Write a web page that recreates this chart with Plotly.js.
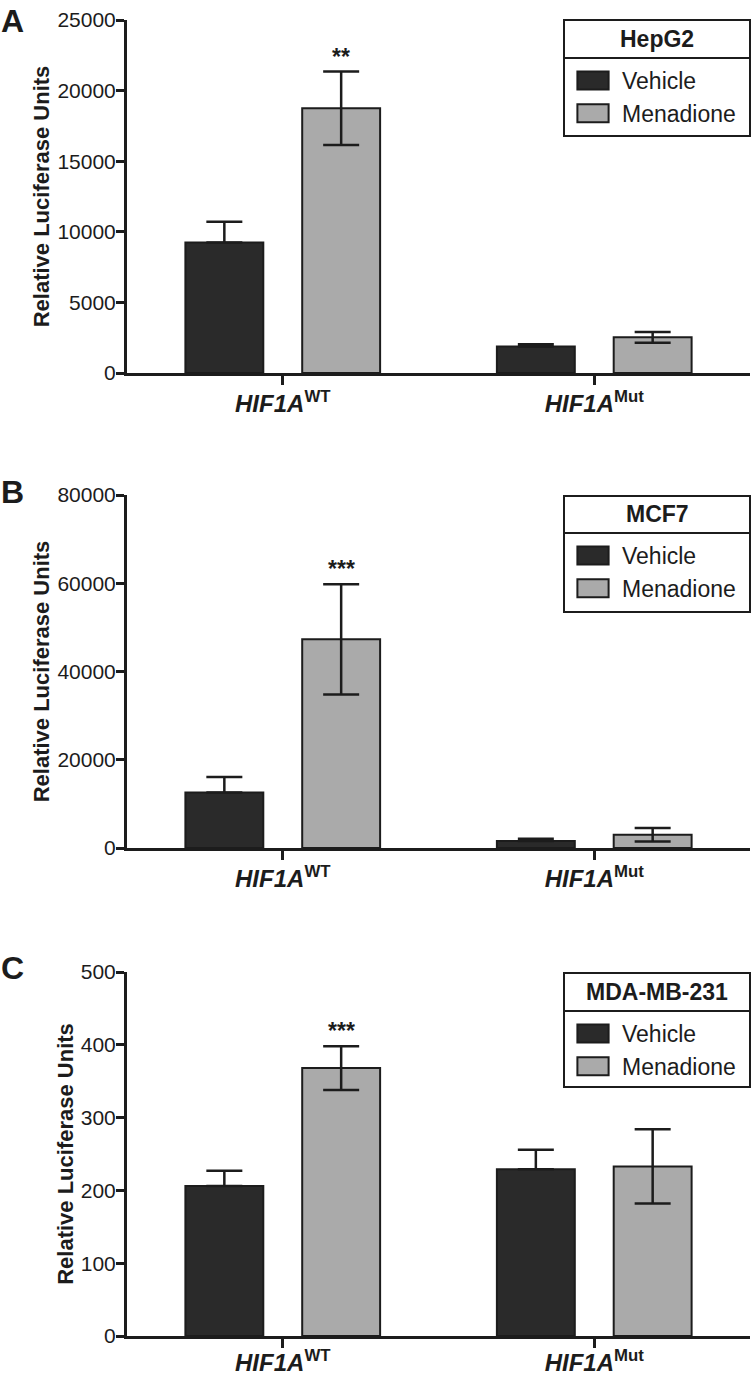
<!DOCTYPE html>
<html>
<head>
<meta charset="utf-8">
<script src="https://cdn.plot.ly/plotly-3.0.1.min.js"></script>
<style>html,body{margin:0;padding:0;background:#fff;}#chart{width:751px;height:1378px;}</style>
</head>
<body>
<div id="chart"></div>
<script>
// ---- data ----
const categories = ['WT', 'Mut'];
const tickLabels = ['<b><i>HIF1A</i><sup>WT</sup></b>', '<b><i>HIF1A</i><sup>Mut</sup></b>'];
const seriesNames = ['Vehicle', 'Menadione'];
const panelLetters = ['A', 'B', 'C'];
const cellLines = ['HepG2', 'MCF7', 'MDA-MB-231'];

const hepg2Vehicle = [9250, 1870];
const hepg2VehicleErr = [1460, 170];
const hepg2Menadione = [18750, 2530];
const hepg2MenadioneErr = [2600, 380];

const mcf7Vehicle = [12600, 1600];
const mcf7VehicleErr = [3500, 500];
const mcf7Menadione = [47300, 3000];
const mcf7MenadioneErr = [12500, 1550];

const mdaVehicle = [206, 229];
const mdaVehicleErr = [21, 27];
const mdaMenadione = [368, 233];
const mdaMenadioneErr = [30, 51];

const significance = ['**', '***', '***'];
const yMax = [25000, 80000, 500];
const yStep = [5000, 20000, 100];

// ---- styling ----
const FONT = 'Liberation Sans, Arial, Helvetica, sans-serif';
const INK = '#1c1c1c';
const vehColor = '#2a2a2a';
const menColor = '#aaaaaa';
const W = 751, H = 1378;
const M = {l: 127, r: 1, t: 0, b: 0};
const PW = W - M.l - M.r, PH = H - M.t - M.b;
const px2x = px => (px - M.l) / PW;
const px2y = py => 1 - (py - M.t) / PH;
const bargap = 0.25;
const bargroupgap = 0.333;

// pixel extents (top, bottom) of each panel's y axis
const yPix = [[20, 373], [495, 848], [972, 1336]];
// legend frame: [top, divider, bottom]
const legendBox = [[20, 58, 136], [496, 533, 612], [973, 1011, 1087]];
const legendLeft = 564, legendRight = 750;
const letterPix = [21, 492, 968];
const xLabelStandoff = [-2, -2, -6];

const panels = [
  {veh: hepg2Vehicle, vehErr: hepg2VehicleErr, men: hepg2Menadione, menErr: hepg2MenadioneErr},
  {veh: mcf7Vehicle, vehErr: mcf7VehicleErr, men: mcf7Menadione, menErr: mcf7MenadioneErr},
  {veh: mdaVehicle, vehErr: mdaVehicleErr, men: mdaMenadione, menErr: mdaMenadioneErr}
];

const data = [];
const layout = {
  width: W, height: H,
  margin: M,
  paper_bgcolor: '#fff', plot_bgcolor: '#fff',
  font: {family: FONT, color: INK},
  barmode: 'group',
  bargap: bargap,
  bargroupgap: bargroupgap,
  showlegend: true,
  annotations: [],
  shapes: []
};

panels.forEach((p, i) => {
  const sfx = i === 0 ? '' : String(i + 1);
  const legendId = 'legend' + sfx;
  const xa = 'x' + sfx, ya = 'y' + sfx;
  data.push({
    type: 'bar', x: categories, y: p.veh, name: seriesNames[0],
    xaxis: xa, yaxis: ya, legend: legendId, legendgroup: seriesNames[0],
    marker: {color: vehColor, line: {color: INK, width: 2}},
    error_y: {type: 'data', symmetric: false, array: p.vehErr, arrayminus: p.vehErr.map(() => 0),
              color: INK, thickness: 2.5, width: 18}
  });
  data.push({
    type: 'bar', x: categories, y: p.men, name: seriesNames[1],
    xaxis: xa, yaxis: ya, legend: legendId, legendgroup: seriesNames[1],
    marker: {color: menColor, line: {color: INK, width: 2}},
    error_y: {type: 'data', array: p.menErr, color: INK, thickness: 2.5, width: 18}
  });

  const dom = [px2y(yPix[i][1]), px2y(yPix[i][0])];
  layout['xaxis' + sfx] = {
    anchor: ya, domain: [0, 1], type: 'category',
    range: [-0.5, 1.5],
    tickvals: categories, ticktext: tickLabels,
    showline: true, linewidth: 3, linecolor: INK,
    ticks: 'outside', ticklen: 9, tickwidth: 3, tickcolor: INK,
    tickfont: {size: 24, color: INK, family: FONT},
    ticklabelstandoff: xLabelStandoff[i],
    showgrid: false, zeroline: false, fixedrange: true
  };
  layout['yaxis' + sfx] = {
    anchor: xa, domain: dom,
    range: [0, yMax[i]], dtick: yStep[i], tick0: 0, tickformat: 'd',
    showline: true, linewidth: 3, linecolor: INK,
    ticks: 'outside', ticklen: 8, tickwidth: 3, tickcolor: INK,
    tickfont: {size: 21, color: INK, family: FONT},
    ticklabelstandoff: -4,
    showgrid: false, zeroline: false, fixedrange: true,
    title: {text: 'Relative Luciferase Units', font: {size: 22, weight: 'bold', color: INK, family: FONT}, standoff: 2}
  };
  const [lt, ld, lb] = legendBox[i];
  layout[legendId] = {
    x: px2x(legendLeft), xanchor: 'left', y: px2y(ld + 1), yanchor: 'top',
    bgcolor: 'rgba(0,0,0,0)', borderwidth: 0,
    itemwidth: 48,
    font: {size: 23, color: INK, family: FONT},
    tracegroupgap: 0, itemclick: false, itemdoubleclick: false
  };
  // legend frame, divider and title
  layout.shapes.push({
    type: 'rect', xref: 'paper', yref: 'paper',
    x0: px2x(legendLeft), x1: px2x(legendRight), y0: px2y(lb), y1: px2y(lt),
    line: {color: INK, width: 2}, fillcolor: 'rgba(0,0,0,0)'
  });
  layout.shapes.push({
    type: 'line', xref: 'paper', yref: 'paper',
    x0: px2x(legendLeft), x1: px2x(legendRight), y0: px2y(ld), y1: px2y(ld),
    line: {color: INK, width: 2}
  });
  layout.annotations.push({
    xref: 'paper', yref: 'paper',
    x: px2x((legendLeft + legendRight) / 2), y: px2y((lt + ld) / 2),
    xanchor: 'center', yanchor: 'middle', showarrow: false,
    text: '<b>' + cellLines[i] + '</b>',
    font: {size: 23, color: INK, family: FONT}
  });
  // significance stars above menadione bar of WT group
  layout.annotations.push({
    xref: xa, yref: ya,
    x: (1 - bargap) / 4, y: p.men[0] + p.menErr[0],
    text: '<b>' + significance[i] + '</b>', showarrow: false,
    yanchor: 'bottom', yshift: 0,
    font: {size: 23, color: INK, family: FONT}
  });
  // panel letter
  layout.annotations.push({
    xref: 'paper', yref: 'paper',
    x: px2x(0), xanchor: 'left',
    y: px2y(letterPix[i]), yanchor: 'middle', borderpad: 0,
    text: '<b>' + panelLetters[i] + '</b>', showarrow: false,
    font: {size: 32, color: INK, family: FONT}
  });
});

Plotly.newPlot('chart', data, layout, {displayModeBar: false, staticPlot: true}).then(gd => {
  // enlarge the legend swatches to the reference's wide rectangles
  gd.querySelectorAll('.legendpoints path').forEach(p => {
    const tr = p.getAttribute('transform') || '';
    p.setAttribute('transform', tr + ' scale(2.6,1.5)');
    p.style.vectorEffect = 'non-scaling-stroke';
  });
});
</script>
</body>
</html>
